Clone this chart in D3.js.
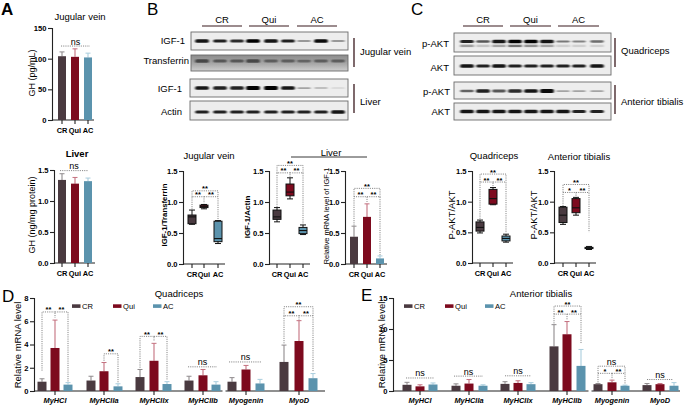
<!DOCTYPE html>
<html><head><meta charset="utf-8">
<script src="https://cdn.jsdelivr.net/npm/d3@7/dist/d3.min.js"></script>
<style>html,body{margin:0;padding:0;background:#fff}svg{display:block}text{font-family:"Liberation Sans",Arial,sans-serif;fill:#000}</style>
</head><body><svg id="c" width="685" height="405"></svg>
<script>
// ---------- data ----------
const groups = ["CR","Qui","AC"];
const groupColors = ["#4a3a40","#7d0a1e","#5b93ad"];
const whiskerColors = ["#8f8a8c","#c4707f","#a9cddd"];
const ghJugularMean = [104,103,102], ghJugularTop = [111,116,109];
const ghLiverMean = [1.34,1.28,1.32], ghLiverTop = [1.44,1.38,1.37];
const igfMrnaMean = [0.44,0.76,0.09], igfMrnaTop = [0.61,0.97,0.13];
// boxes: [min, q1, median, q3, max]
const igfTransferrinBox = [[0.64,0.65,0.76,0.79,0.87],[0.89,0.91,0.93,0.95,0.96],[0.33,0.36,0.41,0.69,0.70]];
const igfActinBox = [[0.68,0.72,0.76,0.87,0.91],[1.05,1.10,1.16,1.29,1.39],[0.475,0.49,0.54,0.59,0.63]];
const aktQuadBox = [[0.49,0.52,0.58,0.67,0.70],[0.95,0.96,1.05,1.20,1.23],[0.34,0.36,0.40,0.44,0.47]];
const aktTibBox = [[0.63,0.66,0.78,0.91,0.92],[0.78,0.82,0.90,1.05,1.07],[0.22,0.235,0.245,0.255,0.27]];
const genes = ["MyHCI","MyHCIIa","MyHCIIx","MyHCIIb","Myogenin","MyoD"];
const quadMean = [[0.8,3.7,0.55],[0.9,1.7,0.4],[1.2,2.6,0.6],[0.9,1.35,0.55],[0.8,1.85,0.65],[2.5,4.3,1.1]];
const quadTop  = [[1.05,6.1,0.72],[1.27,2.45,0.62],[1.85,4.1,0.8],[1.27,1.85,0.8],[1.15,2.2,1.0],[3.95,6.05,1.5]];
const tibMean = [[1,0.75,1.05],[0.85,1.2,0.85],[1.15,1.3,1.1],[7.2,9.15,4.05],[1.1,1.4,0.85],[0.95,1.1,0.85]];
const tibTop  = [[1.4,1.0,1.3],[1.15,1.85,1.0],[1.5,1.65,1.35],[10.7,11.2,6.7],[1.2,1.75,0.95],[1.2,1.2,1.35]];
const ticks15 = [0,0.5,1,1.5], ticks150 = [0,50,100,150], ticks8 = [0,2,4,6,8], ticks15b = [0,5,10,15];
// blot band intensity by lane
const bIgfJug = [.9,.85,.8,1,.9,.85,.3,.95,.3];
const bTransf = [.75,.6,.6,.75,.55,.55,.5,.55,.55];
const bIgfLiv = [.9,.85,.85,1,1,.9,.25,.2,.08];
const bActin  = [.85,.85,.85,.85,.85,.85,.85,.85,.9];
const cAktQ  = [.85,.6,.9,1,1,.9,.45,.4,.5];
const cAktQ2 = [.4,.2,.35,.6,.45,.35,.15,.12,.12];
const cTotQ  = [.9,.85,.9,.85,.85,.85,.85,.85,.9];
const cAktT  = [.55,.85,.6,.8,.9,.95,.25,.25,.25];
const cTotT  = [.9,.9,.9,.9,.9,.9,.9,.85,.85];

// ---------- helpers ----------
const svg = d3.select("#c");
const defs = svg.append("defs");
defs.append("filter").attr("id","soft").attr("x","-20%").attr("y","-100%").attr("width","140%").attr("height","300%")
  .append("feGaussianBlur").attr("stdDeviation","0.9 0.6");
const grad=defs.append("linearGradient").attr("id","tf").attr("x1",0).attr("x2",0).attr("y1",0).attr("y2",1);
grad.append("stop").attr("offset",0).attr("stop-color","#8c8c8c");
grad.append("stop").attr("offset",0.55).attr("stop-color","#a8a8a8");
grad.append("stop").attr("offset",1).attr("stop-color","#cfcfcf");
const label=(x,y,t,o={})=>svg.append("text").attr("x",x).attr("y",y).text(t)
  .attr("font-size",o.s||9.5).attr("font-weight",o.b?"bold":null).attr("font-style",o.i?"italic":null)
  .attr("text-anchor",o.a||"middle").attr("dominant-baseline","central");
const vlabel=(x,y,t,o={})=>{const g=label(0,0,t,o);g.attr("transform",`translate(${x},${y}) rotate(-90)`);return g;};
function yAxis(x,top,bot,dom,ticks,fmt){
  const y=d3.scaleLinear().domain(dom).range([bot,top]);
  const g=svg.append("g").attr("transform",`translate(${x},0)`)
    .call(d3.axisLeft(y).tickValues(ticks).tickFormat(fmt).tickSize(4).tickPadding(1.5));
  g.select(".domain").attr("stroke","#222").attr("stroke-width",1.1);
  g.selectAll(".tick line").attr("stroke","#222").attr("stroke-width",1.1);
  g.selectAll("text").attr("font-size",7.6).attr("font-weight","bold").attr("font-family",'"Liberation Sans"');
  return y;
}
function xAxis(x0,x1,yy,cats,pos,o={}){
  const x=d3.scaleOrdinal().domain(cats).range(pos);
  const g=svg.append("g").attr("transform",`translate(0,${yy})`);
  const segs=o.breaks?d3.pairs([x0,...o.breaks.flatMap(b=>[b-1.5,b+1.5]),x1]).filter((_,i)=>i%2===0):[[x0,x1]];
  segs.forEach(s=>g.append("line").attr("x1",s[0]).attr("x2",s[1]).attr("stroke","#222").attr("stroke-width",1.1));
  g.selectAll("line.t").data(cats).join("line").attr("class","t").attr("x1",x).attr("x2",x).attr("y2",4).attr("stroke","#222").attr("stroke-width",1.1);
  g.selectAll("text").data(cats).join("text").attr("x",x).attr("y",o.dy||10.5).text(d=>d).attr("text-anchor","middle")
   .attr("dominant-baseline","central").attr("font-size",o.s||7.4).attr("font-weight","bold").attr("font-style",o.i?"italic":null);
  return x;
}
function bars(pos,y,mean,top,w){
  const g=svg.append("g");
  mean.forEach((m,i)=>{
    g.append("line").attr("x1",pos[i]).attr("x2",pos[i]).attr("y1",y(m)).attr("y2",y(top[i])).attr("stroke",whiskerColors[i]).attr("stroke-width",1.1);
    g.append("line").attr("x1",pos[i]-2.5).attr("x2",pos[i]+2.5).attr("y1",y(top[i])).attr("y2",y(top[i])).attr("stroke",whiskerColors[i]).attr("stroke-width",1);
    g.append("rect").attr("x",pos[i]-w/2).attr("width",w).attr("y",y(m)).attr("height",y(0)-y(m)).attr("fill",groupColors[i]);
  });
}
function boxes(pos,y,data,w){
  data.forEach((d,i)=>{
    const g=svg.append("g").attr("stroke","#111").attr("stroke-width",1);
    g.append("line").attr("x1",pos[i]).attr("x2",pos[i]).attr("y1",y(d[0])).attr("y2",y(d[4]));
    [d[0],d[4]].forEach(v=>g.append("line").attr("x1",pos[i]-3).attr("x2",pos[i]+3).attr("y1",y(v)).attr("y2",y(v)));
    g.append("rect").attr("x",pos[i]-w/2).attr("width",w).attr("y",y(d[3])).attr("height",y(d[1])-y(d[3])).attr("fill",groupColors[i]);
    g.append("line").attr("x1",pos[i]-w/2).attr("x2",pos[i]+w/2).attr("y1",y(d[2])).attr("y2",y(d[2])).attr("stroke-width",1.1);
  });
}
// significance bracket: xa,xb px from category scale, y value, leg end values
function sig(y,xa,xb,v,va,vb,t,o={}){
  const p=d3.path();
  if(va!=null){p.moveTo(xa,y(va));p.lineTo(xa,y(v));}else p.moveTo(xa,y(v));
  p.lineTo(xb,y(v));
  if(vb!=null)p.lineTo(xb,y(vb));
  svg.append("path").attr("d",p.toString()).attr("fill","none").attr("stroke","#666").attr("stroke-width",0.8).attr("stroke-dasharray","1.1 1.1");
  label((xa+xb)/2,y(v)+(t==="ns"?-4.5:-2),t,{s:t==="ns"?9:7.5,b:t!=="ns"});
}
function blot(x0,x1,y0,y1,lanes,vals,o={}){
  const g=svg.append("g");
  g.append("rect").attr("x",x0).attr("y",y0).attr("width",x1-x0).attr("height",y1-y0).attr("fill",o.bg||"#ededed").attr("stroke","#6a6a6a").attr("stroke-width",0.9);
  const h=d3.scaleLinear().domain([0,1]).range([1,o.h||3.6]);
  const op=d3.scaleLinear().domain([0,1]).range([0.08,1]);
  const cy=o.cy!=null?o.cy:(y0+y1)/2;
  const inner=g.append("g").attr("filter","url(#soft)");
  vals.forEach((v,i)=>inner.append("rect").attr("x",lanes[i]-(o.w||6.8)).attr("width",2*(o.w||6.8)).attr("y",cy-h(v)/2).attr("height",h(v)).attr("rx",1.5).attr("fill",o.c||"#050505").attr("opacity",op(v)));
  if(o.second) o.second.forEach((v,i)=>inner.append("rect").attr("x",lanes[i]-6.8).attr("width",13.6).attr("y",cy+3.2).attr("height",2.4).attr("fill","#222").attr("opacity",v));
}
function header(spans,yy){spans.forEach((s,i)=>{
  svg.append("line").attr("x1",s[0]).attr("x2",s[1]).attr("y1",yy).attr("y2",yy).attr("stroke","#3a1a1e").attr("stroke-width",1.2);
  label((s[0]+s[1])/2,yy-6.5,groups[i],{s:9.5});
});}
const vbar=(x,a,b)=>svg.append("line").attr("x1",x).attr("x2",x).attr("y1",a).attr("y2",b).attr("stroke","#3a1a1e").attr("stroke-width",1.3);

// ---------- panel letters ----------
label(1,9,"A",{s:17,a:"start",b:true});label(147,9,"B",{s:17,a:"start"});label(411,9,"C",{s:17,a:"start"});
label(2,296,"D",{s:17,a:"start"});label(361,295,"E",{s:17,a:"start"});

// ---------- A ----------
const fmt1=d3.format(".1f"),fmt0=d3.format("d");
const posA=[62,75,88];
label(80,16,"Jugular vein",{s:9.5});
{const y=yAxis(52,28,120,[0,150],ticks150,fmt0);xAxis(52,94,120,groups,posA);bars(posA,y,ghJugularMean,ghJugularTop,8);
 sig(y,61,90,120.6,null,null,"ns");vlabel(32,73,"GH (pg/mL)",{s:9});}
label(77,153,"Liver",{s:9.5,b:true});
{const p=[62,75,88];const y=yAxis(54,170,263,[0,1.5],ticks15,fmt1);xAxis(54,95,263,groups,p);bars(p,y,ghLiverMean,ghLiverTop,8);
 sig(y,60,88,1.49,null,null,"ns");vlabel(32,215,"GH (ng/mg protein)",{s:9});}

// ---------- B blots ----------
const lanesB=[202,220,237,253,271,288,304,321,338];
header([[202,242],[249,289],[297,337]],26);
blot(191,348,32,50,lanesB,bIgfJug,{cy:41});
blot(191,348,55,71,lanesB,bTransf,{bg:"url(#tf)",c:"#2c2c2c",h:4.5,cy:61});
blot(190,348,79,97,lanesB,bIgfLiv,{cy:88,h:4});
blot(190,348,101,120,lanesB,bActin,{cy:112});
label(185,40,"IGF-1",{a:"end"});label(189,60,"Transferrin",{a:"end"});label(182,88,"IGF-1",{a:"end"});label(182,111,"Actin",{a:"end"});
vbar(354,38,67);vbar(354,84,113);
label(360,51,"Jugular vein",{a:"start"});label(360,101,"Liver",{a:"start"});

// ---------- B quantification ----------
label(209,155,"Jugular vein",{s:9.5});label(331,152,"Liver",{s:9.5});
svg.append("line").attr("x1",291).attr("x2",367).attr("y1",157).attr("y2",157).attr("stroke","#222").attr("stroke-width",0.9);
{const p=[192,204,218];const y=yAxis(183,171,264,[0,1.5],ticks15,fmt1);xAxis(183,225,264,groups,p);boxes(p,y,igfTransferrinBox,8);
 sig(y,p[0],p[2],1.18,1.085,1.085,"**");sig(y,p[0],p[1],1.085,.88,.98,"**");sig(y,p[1],p[2],1.085,null,.71,"**");
 vlabel(164,215,"IGF-1/Transferrin",{s:7.8,b:true});}
{const p=[277,290,303];const y=yAxis(269,171,264,[0,1.5],ticks15,fmt1);xAxis(269,310,264,groups,p);boxes(p,y,igfActinBox,8);
 sig(y,p[0],p[2],1.59,1.47,1.47,"**");sig(y,p[0],p[1],1.47,.92,1.40,"**");sig(y,p[1],p[2],1.47,null,.64,"**");
 vlabel(247,217,"IGF-1/Actin",{s:8,b:true});}
{const p=[354,367,380];const y=yAxis(345,171,264,[0,1.5],ticks15,fmt1);xAxis(345,387,264,groups,p);bars(p,y,igfMrnaMean,igfMrnaTop,8);
 sig(y,p[0],p[2],1.22,1.085,1.085,"**");sig(y,p[0],p[1],1.085,.62,1.0,"**");sig(y,p[1],p[2],1.085,null,.14,"**");
 vlabel(326,216,"Relative mRNA level of IGF-1",{s:7.4});}

// ---------- C blots ----------
const lanesC=[467,483,499,515,531,547,563,579,597];
header([[463,503],[510,551],[558,599]],26);
blot(454,611,33,52,lanesC,cAktQ,{cy:41.5,h:3.6,second:cAktQ2});
blot(454,611,56,75,lanesC,cTotQ,{cy:66});
blot(454,611,82,99,lanesC,cAktT,{cy:91,h:4});
blot(454,611,103,120,lanesC,cTotT,{cy:111.5});
label(449,43,"p-AKT",{a:"end"});label(449,67,"AKT",{a:"end"});label(450,91,"p-AKT",{a:"end"});label(450,111,"AKT",{a:"end"});
vbar(615,38,67);vbar(615,85,114);
label(621,50,"Quadriceps",{a:"start"});label(621,101,"Anterior tibialis",{a:"start"});

// ---------- C quantification ----------
label(494,155,"Quadriceps",{s:9.5});label(579,156,"Anterior tibialis",{s:9.5});
{const p=[480,493,506];const y=yAxis(472,171,263,[0,1.5],ticks15,fmt1);xAxis(472,513,263,groups,p);boxes(p,y,aktQuadBox,8);
 sig(y,p[0],p[2],1.45,1.32,1.32,"**");sig(y,p[0],p[1],1.32,.72,1.25,"**");sig(y,p[1],p[2],1.32,null,.49,"**");
 vlabel(451,215,"P-AKT/AKT",{s:9.5});}
{const p=[563,576,589];const y=yAxis(554,171,263,[0,1.5],ticks15,fmt1);xAxis(554,596,263,groups,p);boxes(p,y,aktTibBox,8);
 sig(y,p[0],p[2],1.28,1.15,1.15,"**");sig(y,p[0],p[1],1.15,.93,1.08,"*");sig(y,p[1],p[2],1.15,null,.5,"**");
 vlabel(533,215,"P-AKT/AKT",{s:9.5});}

// ---------- D ----------
function legend(xs){groups.forEach((g,i)=>{
  svg.append("rect").attr("x",xs[i]).attr("y",304.3).attr("width",8.5).attr("height",3.6).attr("fill",groupColors[i]);
  label(xs[i]+10,306,g,{s:7.6,a:"start"});
});}
label(179,293,"Quadriceps",{s:9.5});
{const barPos=[[42,55,68],[91,104,118],[140,154,167],[189,203,216],[232,246,260],[284,299,313]];
 const y=yAxis(34,298,391,[0,8],ticks8,fmt0);
 xAxis(34,325,391,genes,barPos.map(b=>b[1]),{i:true,dy:9.5,breaks:[224]});
 genes.forEach((g,i)=>bars(barPos[i],y,quadMean[i],quadTop[i],9));
 const P=barPos;
 sig(y,P[0][0],P[0][1],6.8,1.75,6.3,"**");sig(y,P[0][1],P[0][2],6.8,null,.8,"**");
 sig(y,P[1][1],P[1][2],3.2,2.6,.75,"**");
 sig(y,P[2][0],P[2][1],4.7,2.0,4.3,"**");sig(y,P[2][1],P[2][2],4.7,null,.95,"**");
 sig(y,188,217,2.08,null,null,"ns");sig(y,229,262,2.5,null,null,"ns");
 sig(y,P[5][0],P[5][2],7.25,6.47,6.47,"**");sig(y,P[5][0],P[5][1],6.47,4.1,6.1,"**");sig(y,P[5][1],P[5][2],6.47,null,1.7,"**");
 vlabel(17,345,"Relative mRNA level",{s:9.5});
 legend([72,113,153]);}

// ---------- E ----------
label(541,293,"Anterior tibialis",{s:9.5});
{const barPos=[[407,420,433],[456,469,483],[505,518,531],[554,567,581],[598,612,625],[647,660,674]];
 const y=yAxis(393,298,391,[0,15],ticks15b,fmt0);
 xAxis(393,680,391,genes,barPos.map(b=>b[1]),{i:true,dy:9.5,breaks:[590]});
 genes.forEach((g,i)=>bars(barPos[i],y,tibMean[i],tibTop[i],9));
 const P=barPos;
 sig(y,406,434,2.1,null,null,"ns");sig(y,454,483,2.4,null,null,"ns");sig(y,505,531,2.45,null,null,"ns");
 sig(y,P[3][0],P[3][2],13.7,12.4,12.4,"**");sig(y,P[3][0],P[3][1],12.4,10.9,11.4,"**");sig(y,P[3][1],P[3][2],12.4,null,7.6,"**");
 sig(y,P[4][0],P[4][2],4.0,2.85,2.85,"ns");sig(y,P[4][0],P[4][1],2.85,1.4,1.9,"*");sig(y,P[4][1],P[4][2],2.85,null,1.1,"**");
 sig(y,647,673,1.85,null,null,"ns");
 vlabel(381,345,"Relative mRNA level",{s:9.5});
 legend([404,445,485]);}
</script></body></html>
